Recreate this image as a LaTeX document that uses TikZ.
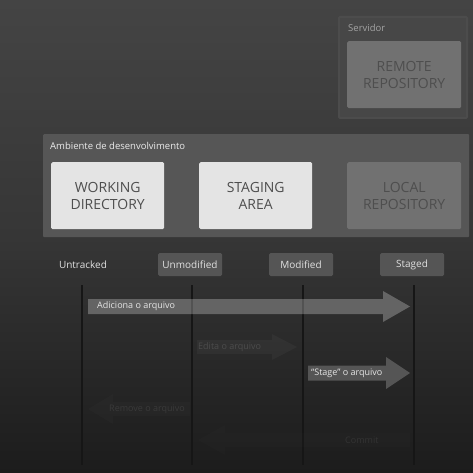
\documentclass[tikz,border=0pt]{standalone}
\usepackage{fontspec}
\setmainfont{Open Sans}
\usetikzlibrary{positioning}
\definecolor{bgtop}{HTML}{444444}
\definecolor{bgmid}{HTML}{363636}
\definecolor{bgbot}{HTML}{1C1C1C}
\definecolor{grp}{HTML}{565656}
\definecolor{srv}{HTML}{474747}
\definecolor{srvedge}{HTML}{4C4C4C}
\definecolor{lightbox}{HTML}{E4E4E4}
\definecolor{dimbox}{HTML}{717171}
\definecolor{boxtxt}{HTML}{4E4E4E}
\definecolor{statebox}{HTML}{555555}
\definecolor{vline}{HTML}{161616}
\definecolor{edittxt}{HTML}{4C4C4C}
\definecolor{remtxt}{HTML}{3A3A3A}
\definecolor{comtxt}{HTML}{333333}
\tikzset{
  bigbox/.style={draw=none, rounded corners=1.5pt, minimum width=113pt, minimum height=67pt, align=center, font=\fontsize{14}{17}\selectfont, inner sep=0pt},
  grpbox/.style={draw=none, rounded corners=1pt},
  grplabel/.style={anchor=west, inner sep=0pt, font=\fontsize{9.5}{11}\selectfont},
  state/.style={fill=statebox, rounded corners=1.5pt, minimum width=64pt, minimum height=23pt, inner sep=0pt, text=white!88!black, font=\fontsize{10}{12}\selectfont},
  lifeline/.style={draw=vline, line width=2pt},
  arrlabel/.style={anchor=west, inner sep=0pt, font=\fontsize{9}{11}\selectfont},
}
\begin{document}
\begin{tikzpicture}[x=1pt,y=-1pt]
\useasboundingbox (0,0) rectangle (473,473);
\shade[top color=bgtop, bottom color=bgbot, middle color=bgmid] (0,0) rectangle (473,473);

% Servidor group
\node[grpbox, fill=srv, draw=srvedge, line width=2pt, minimum width=128pt, minimum height=101pt, anchor=north west, inner sep=0pt] (srvgrp) at (338,16) {};
\node[grplabel, text=white!50!srv] (srvlbl) at (348,28) {Servidor};
\node[bigbox, fill=dimbox, text=boxtxt, minimum width=114pt, minimum height=67pt, anchor=north west] (remote) at (347,41) {REMOTE\\REPOSITORY};

% Ambiente group
\node[grpbox, fill=grp, minimum width=426pt, minimum height=103pt, anchor=north west, inner sep=0pt] (envgrp) at (43,134) {};
\node[grplabel, text=white!92!black] (envlbl) at (50,146) {Ambiente de desenvolvimento};
\node[bigbox, fill=lightbox, text=boxtxt, anchor=north west] (wd) at (51,162) {WORKING\\DIRECTORY};
\node[bigbox, fill=lightbox, text=boxtxt, anchor=north west] (sa) at (199,162) {STAGING\\AREA};
\node[bigbox, fill=dimbox, text=boxtxt, anchor=north west, minimum width=114pt] (local) at (347,162) {LOCAL\\REPOSITORY};

% States
\node[inner sep=0pt, text=white!88!black, font=\fontsize{10}{12}\selectfont] (untr) at (83,264.5) {Untracked};
\node[state] (unmod) at (190,264.5) {Unmodified};
\node[state] (mod) at (301,264.5) {Modified};
\node[state] (stg) at (412,264.5) {Staged};

% lifelines
\coordinate (l1t) at (82,285); \coordinate (l1b) at (82,465);
\coordinate (l2t) at (192,285); \coordinate (l2b) at (192,465);
\coordinate (l3t) at (303,285); \coordinate (l3b) at (303,465);
\coordinate (l4t) at (414,285); \coordinate (l4b) at (414,465);
\draw[lifeline] (l1t) -- (l1b);
\draw[lifeline] (l2t) -- (l2b);
\draw[lifeline] (l3t) -- (l3b);
\draw[lifeline] (l4t) -- (l4b);

% Adiciona o arquivo
\fill[white, opacity=0.26] (88,299) -- (383,299) -- (383,291) -- (410,306.5) -- (383,322) -- (383,314) -- (88,314) -- cycle;
\node[arrlabel, text=white!90!black] (adic) at (97,306.5) {Adiciona o arquivo};

% Edita o arquivo
\fill[white, opacity=0.035] (197,340) -- (272,340) -- (272,334) -- (297,347) -- (272,360) -- (272,354) -- (197,354) -- cycle;
\node[arrlabel, text=edittxt] (edit) at (198,347) {Edita o arquivo};

% Stage o arquivo
\fill[statebox] (308,365.5) -- (386,365.5) -- (386,357) -- (410,373) -- (386,389) -- (386,380.5) -- (308,380.5) -- cycle;
\node[arrlabel, text=white!90!black] (stgarr) at (311,373) {\textquotedblleft Stage\textquotedblright\ o arquivo};

% Remove o arquivo
\fill[white, opacity=0.015] (190,402) -- (113,402) -- (113,394) -- (88,409) -- (113,424) -- (113,416) -- (190,416) -- cycle;
\node[arrlabel, text=remtxt] (rem) at (109,409) {Remove o arquivo};

% Commit
\fill[white, opacity=0.012] (410,433) -- (225,433) -- (225,425) -- (198,440) -- (225,455) -- (225,447) -- (410,447) -- cycle;
\node[arrlabel, text=comtxt] (commit) at (345,440) {Commit};
\end{tikzpicture}
\end{document}
